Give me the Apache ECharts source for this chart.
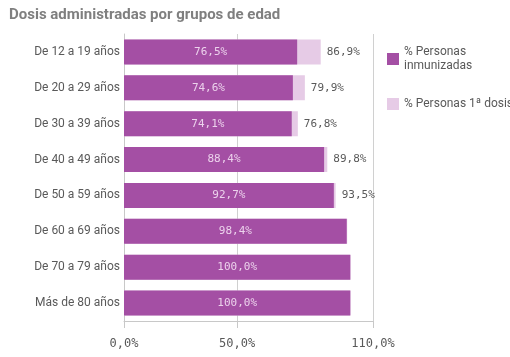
<!DOCTYPE html>
<html><head><meta charset="utf-8">
<script src="https://cdn.jsdelivr.net/npm/echarts@6/dist/echarts.min.js"></script>
<style>html,body{margin:0;padding:0;background:#fff}#c{width:510px;height:357px}</style>
</head><body><div id="c"></div>
<script>
var categories = ["De 12 a 19 años","De 20 a 29 años","De 30 a 39 años","De 40 a 49 años","De 50 a 59 años","De 60 a 69 años","De 70 a 79 años","Más de 80 años"];
var inmunizadas = [76.5, 74.6, 74.1, 88.4, 92.7, 98.4, 100.0, 100.0];
var primeraDosis = [86.9, 79.9, 76.8, 89.8, 93.5, 98.6, 100.0, 100.0];
var showOuter = [true, true, true, true, true, false, false, false];
var tickValues = [0, 50, 110];

function fmt(v){ return v.toFixed(1).replace('.', ',') + '%'; }
var font = 'Roboto';
var chart = echarts.init(document.getElementById('c'));
chart.setOption({
  animation: false,
  title: { text: 'Dosis administradas por grupos de edad', left: 4, top: 3,
    textStyle: { fontFamily: 'Roboto', fontWeight: 'bold', fontSize: 15, color: '#7f7f7f' } },
  legend: {
    orient: 'vertical', left: 382, top: 40, itemWidth: 12, itemHeight: 12, itemGap: 24,
    icon: 'rect', textStyle: { fontFamily: font, fontSize: 12, color: '#595959', lineHeight: 14 },
    data: ['% Personas\ninmunizadas', '% Personas 1ª dosis']
  },
  grid: { left: 124, right: 137, top: 34, bottom: 36 },
  xAxis: {
    type: 'value', min: 0, max: 110,
    axisLine: { show: true, lineStyle: { color: '#c8c8c8' } },
    axisTick: { show: true, length: 7, lineStyle: { color: '#c8c8c8' }, customValues: tickValues },
    axisLabel: { customValues: tickValues, formatter: function(v){ return fmt(v); }, fontFamily: 'DejaVu Sans Mono', fontSize: 12, color: '#595959', margin: 17 },
    splitLine: { show: true, lineStyle: { color: '#d0d0d0' } }
  },
  yAxis: {
    type: 'category', data: categories, inverse: true,
    axisLine: { show: true, lineStyle: { color: '#c8c8c8' } },
    axisTick: { show: false },
    axisLabel: { fontFamily: font, fontSize: 12, color: '#595959', margin: 4 }
  },
  series: [
    { name: '% Personas 1ª dosis', type: 'bar', barWidth: '70%', z: 1,
      itemStyle: { color: '#e6cbe6' },
      data: primeraDosis.map(function(v, i){ return { value: v, label: { show: showOuter[i] } }; }),
      label: { position: 'right', distance: 6, formatter: function(p){ return fmt(p.value); }, fontFamily: 'DejaVu Sans Mono', fontSize: 11, color: '#595959' }
    },
    { name: '% Personas\ninmunizadas', type: 'bar', barWidth: '70%', barGap: '-100%', z: 2,
      itemStyle: { color: '#a44fa4' },
      data: inmunizadas,
      label: { show: true, position: 'inside', formatter: function(p){ return fmt(p.value); }, fontFamily: 'DejaVu Sans Mono', fontSize: 11, color: '#ecd2ec' }
    }
  ]
});
</script></body></html>
